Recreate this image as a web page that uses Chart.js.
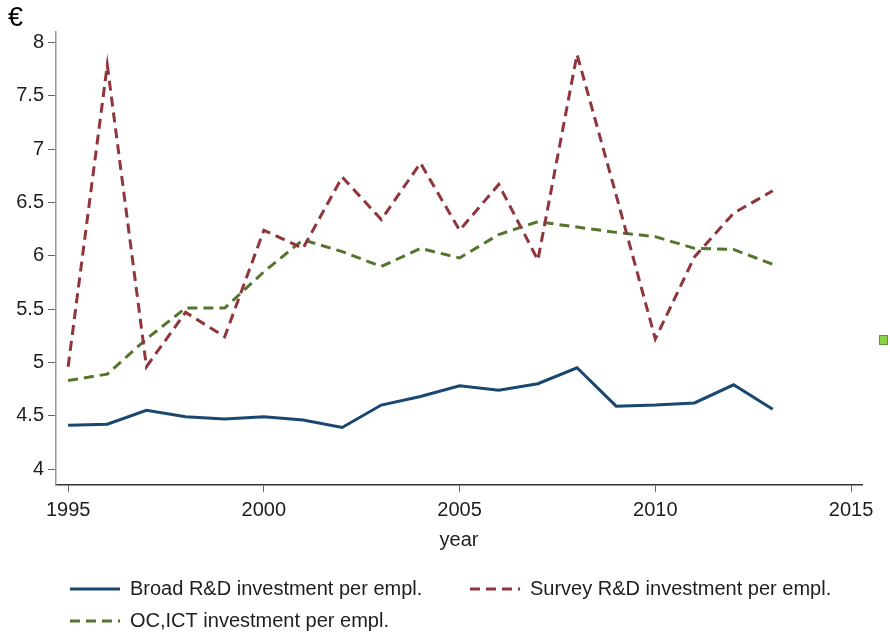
<!DOCTYPE html>
<html>
<head>
<meta charset="utf-8">
<title>Investment per employee</title>
<script src="https://cdn.jsdelivr.net/npm/chart.js@4.4.1/dist/chart.umd.min.js"></script>
<style>
  body { margin: 0; background: #fff; }
  canvas { display: block; }
</style>
</head>
<body>
<canvas id="graph" width="890" height="635"></canvas>
<script>
// yearly series, € per employee
const years = [1995, 1996, 1997, 1998, 1999, 2000, 2001, 2002, 2003, 2004,
               2005, 2006, 2007, 2008, 2009, 2010, 2011, 2012, 2013];
const broadRD = [4.41, 4.42, 4.55, 4.49, 4.47, 4.49, 4.46, 4.39, 4.60, 4.68,
                 4.78, 4.74, 4.80, 4.95, 4.59, 4.60, 4.62, 4.79, 4.56];
const surveyRD = [4.96, 7.79, 4.96, 5.47, 5.24, 6.24, 6.07, 6.74, 6.34, 6.87,
                  6.24, 6.67, 5.96, 7.89, 6.57, 5.22, 5.99, 6.40, 6.61];
const ocICT = [4.83, 4.89, 5.22, 5.51, 5.51, 5.85, 6.15, 6.04, 5.90, 6.07,
               5.98, 6.20, 6.32, 6.27, 6.22, 6.18, 6.07, 6.06, 5.92];

const yearTicks = [1995, 2000, 2005, 2010, 2015];
const euroTicks = [4, 4.5, 5, 5.5, 6, 6.5, 7, 7.5, 8];

const FONT = "'Liberation Sans', Arial, sans-serif";
const TEXT = '#1e1e1e';

function points(values) {
  return values.map((v, i) => ({ x: years[i], y: v }));
}

// legend drawn by hand so the third entry sits under the first
const lineLegend = {
  id: 'lineLegend',
  afterDraw(chart, args, opts) {
    const ctx = chart.ctx;
    ctx.save();
    ctx.font = '20px ' + FONT;
    ctx.textBaseline = 'middle';
    chart.data.datasets.forEach((ds, i) => {
      const p = opts.slots[i];
      ctx.strokeStyle = ds.borderColor;
      ctx.lineWidth = 3;
      ctx.setLineDash(ds.borderDash || []);
      ctx.beginPath();
      ctx.moveTo(p.x, p.y);
      ctx.lineTo(p.x + 50, p.y);
      ctx.stroke();
      ctx.setLineDash([]);
      ctx.fillStyle = TEXT;
      ctx.fillText(ds.label, p.x + 60, p.y);
    });

    // unit marker above the y axis
    ctx.font = '27px ' + FONT;
    ctx.textBaseline = 'alphabetic';
    ctx.fillStyle = '#000';
    ctx.fillText('€', 8, 26);

    // little green box on the right edge
    ctx.fillStyle = '#8cd14a';
    ctx.strokeStyle = '#5c9a2c';
    ctx.lineWidth = 1;
    ctx.fillRect(879, 335, 9, 10);
    ctx.strokeRect(879.5, 335.5, 8, 9);
    ctx.restore();
  }
};

const graph = document.getElementById('graph').getContext('2d');
let myChart = new Chart(graph, {
  type: 'line',
  data: {
    datasets: [
      {
        label: 'Broad R&D investment per empl.',
        data: points(broadRD),
        borderColor: '#1a476f',
        borderWidth: 3
      },
      {
        label: 'Survey R&D investment per empl.',
        data: points(surveyRD),
        borderColor: '#90353b',
        borderWidth: 3,
        borderDash: [10, 6]
      },
      {
        label: 'OC,ICT investment per empl.',
        data: points(ocICT),
        borderColor: '#55752f',
        borderWidth: 3,
        borderDash: [10, 6]
      }
    ]
  },
  options: {
    responsive: false,
    animation: false,
    elements: {
      point: { radius: 0 },
      line: { tension: 0, fill: false }
    },
    layout: {
      padding: { top: 32, right: 28, bottom: 80, left: 0 }
    },
    scales: {
      x: {
        type: 'linear',
        min: 1994.69,
        max: 2015.28,
        afterBuildTicks: s => { s.ticks = yearTicks.map(v => ({ value: v })); },
        afterFit: s => { s.height = 70; },
        border: { color: '#333', width: 1.5 },
        grid: { drawOnChartArea: false, tickLength: 7, tickColor: '#666', tickWidth: 1 },
        ticks: {
          color: TEXT,
          font: { family: FONT, size: 20 },
          padding: 6,
          maxRotation: 0,
          callback: v => String(v)
        },
        title: {
          display: true,
          text: 'year',
          color: TEXT,
          font: { family: FONT, size: 20 },
          padding: { top: 0, bottom: 3 }
        }
      },
      y: {
        min: 3.85,
        max: 8.1,
        afterBuildTicks: s => { s.ticks = euroTicks.map(v => ({ value: v })); },
        afterFit: s => { s.width = 56; },
        border: { color: '#9a9a9a', width: 1.5 },
        grid: { drawOnChartArea: false, tickLength: 8, tickColor: '#666', tickWidth: 1 },
        ticks: {
          color: TEXT,
          font: { family: FONT, size: 20 },
          padding: 4,
          callback: v => String(v)
        }
      }
    },
    plugins: {
      legend: { display: false },
      tooltip: { enabled: false },
      lineLegend: {
        slots: [{ x: 70, y: 589 }, { x: 470, y: 589 }, { x: 70, y: 621 }]
      }
    }
  },
  plugins: [lineLegend]
});
</script>
</body>
</html>
